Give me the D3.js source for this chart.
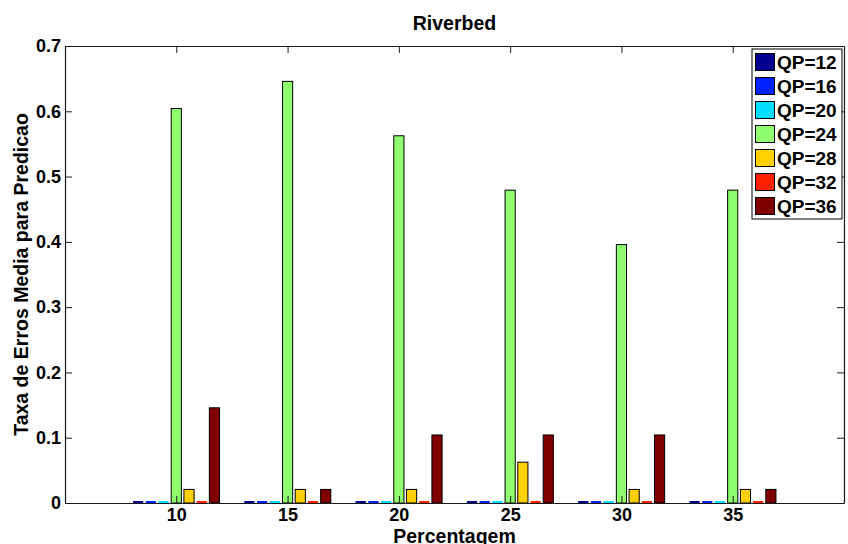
<!DOCTYPE html>
<html>
<head>
<meta charset="utf-8">
<script src="https://cdn.jsdelivr.net/npm/d3@7"></script>
<style>
  html, body { margin: 0; padding: 0; background: #fff; }
  svg { display: block; font-family: "Liberation Sans", Arial, Helvetica, sans-serif; font-weight: bold; }
</style>
</head>
<body>
<svg id="chart" width="848" height="544"></svg>
<script>
// ---- data ----
const categories = [10, 15, 20, 25, 30, 35];
const seriesNames = ["QP=12", "QP=16", "QP=20", "QP=24", "QP=28", "QP=32", "QP=36"];
const seriesColors = ["#000090", "#0022ff", "#00ddff", "#8fff70", "#ffd000", "#ff2000", "#800000"];
const qp12 = [0, 0, 0, 0, 0, 0];
const qp16 = [0, 0, 0, 0, 0, 0];
const qp20 = [0, 0, 0, 0, 0, 0];
const qp24 = [0.6042, 0.6458, 0.5625, 0.4792, 0.3958, 0.4792];
const qp28 = [0.0208, 0.0208, 0.0208, 0.0625, 0.0208, 0.0208];
const qp32 = [0, 0, 0, 0, 0, 0];
const qp36 = [0.1458, 0.0208, 0.1042, 0.1042, 0.1042, 0.0208];
const seriesValues = [qp12, qp16, qp20, qp24, qp28, qp32, qp36];
const yTicks = [0, 0.1, 0.2, 0.3, 0.4, 0.5, 0.6, 0.7];
const titleText = "Riverbed";
const xLabel = "Percentagem";
const yLabel = "Taxa de Erros Media para Predicao";

// ---- layout ----
const L = 65, R = 844, T = 46, B = 503;
const svg = d3.select("#chart");
const x = d3.scaleLinear().domain([5, 40]).range([L, R]);
const y = d3.scaleLinear().domain([0, 0.7]).range([B, T]);

const nS = seriesNames.length;
const step = 5;
const slot = step * 0.8 / nS;      // data units per bar slot
const barW = slot * 0.8;           // bar width in data units

// bars
seriesValues.forEach((vals, si) => {
  const off = (si - (nS - 1) / 2) * slot;
  const g = svg.append("g");
  vals.forEach((v, ci) => {
    const cx = categories[ci] + off;
    const x0 = x(cx - barW / 2), x1 = x(cx + barW / 2);
    if (v > 0) {
      g.append("rect")
        .attr("x", x0).attr("y", y(v))
        .attr("width", x1 - x0).attr("height", y(0) - y(v))
        .attr("fill", seriesColors[si])
        .attr("stroke", "#000").attr("stroke-width", 1);
    } else {
      g.append("rect")
        .attr("x", x0).attr("y", y(0) - 2)
        .attr("width", x1 - x0).attr("height", 2)
        .attr("fill", seriesColors[si]);
    }
  });
});

// axes box
const axisColor = "#1a1a1a";
const xAxisB = d3.axisBottom(x).tickValues(categories).tickSizeInner(-7).tickSizeOuter(0).tickPadding(5);
const xAxisT = d3.axisTop(x).tickValues(categories).tickSizeInner(-7).tickSizeOuter(0).tickFormat("");
const yAxisL = d3.axisLeft(y).tickValues(yTicks).tickSizeInner(-7).tickSizeOuter(0).tickPadding(4)
  .tickFormat(d => d === 0 ? "0" : d3.format(".1f")(d));
const yAxisR = d3.axisRight(y).tickValues(yTicks).tickSizeInner(-7).tickSizeOuter(0).tickFormat("");

function styleAxis(g) {
  g.selectAll("path.domain").attr("stroke", axisColor).attr("stroke-width", 1.2);
  g.selectAll(".tick line").attr("stroke", axisColor).attr("stroke-width", 1);
  g.selectAll(".tick text").attr("fill", "#000")
    .style("font-family", '"Liberation Sans", Arial, sans-serif')
    .style("font-weight", "bold").style("font-size", "18px");
}
svg.append("g").attr("transform", `translate(0,${B})`).call(xAxisB).call(styleAxis);
svg.append("g").attr("transform", `translate(0,${T})`).call(xAxisT).call(styleAxis);
svg.append("g").attr("transform", `translate(${L},0)`).call(yAxisL).call(styleAxis);
svg.append("g").attr("transform", `translate(${R},0)`).call(yAxisR).call(styleAxis);

// title & labels
svg.append("text").attr("x", 454.5).attr("y", 30).attr("text-anchor", "middle")
  .style("font-size", "19.5px").text(titleText);
svg.append("text").attr("x", 454.5).attr("y", 542.5).attr("text-anchor", "middle")
  .style("font-size", "19.5px").text(xLabel);
svg.append("text").attr("transform", `translate(28,${(T + B) / 2}) rotate(-90)`)
  .attr("text-anchor", "middle").style("font-size", "19.5px").text(yLabel);

// legend
const lg = svg.append("g");
lg.append("rect").attr("x", 752).attr("y", 49).attr("width", 90).attr("height", 170)
  .attr("fill", "#fff").attr("stroke", "#000").attr("stroke-width", 1);
seriesNames.forEach((name, i) => {
  const yy = 53.5 + i * 24;
  lg.append("rect").attr("x", 755.5).attr("y", yy).attr("width", 19).attr("height", 17)
    .attr("fill", seriesColors[i]).attr("stroke", "#000").attr("stroke-width", 1);
  lg.append("text").attr("x", 777).attr("y", yy + 15.5)
    .style("font-size", "19px").text(name);
});
</script>
</body>
</html>
